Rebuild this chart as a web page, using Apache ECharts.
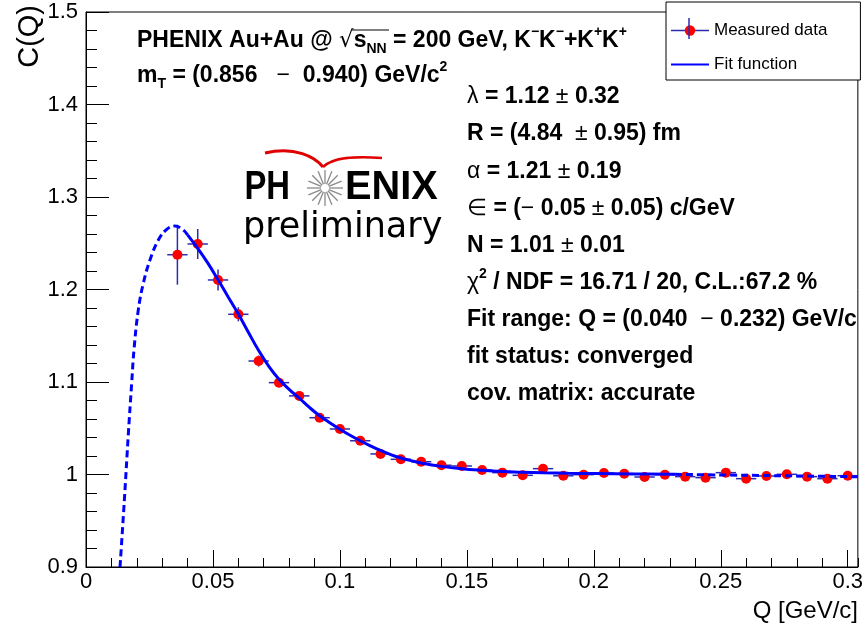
<!DOCTYPE html>
<html>
<head>
<meta charset="utf-8">
<script src="https://cdn.jsdelivr.net/npm/echarts@6/dist/echarts.min.js"></script>
<style>html,body{margin:0;padding:0;background:#fff}#chart{width:866px;height:635px}</style>
</head>
<body>
<div id="chart"></div>
<script>
// ---------- data ----------
const qValues = [0.036, 0.044, 0.052, 0.060, 0.068, 0.076, 0.084, 0.092, 0.100, 0.108,
                 0.116, 0.124, 0.132, 0.140, 0.148, 0.156, 0.164, 0.172, 0.180, 0.188,
                 0.196, 0.204, 0.212, 0.220, 0.228, 0.236, 0.244, 0.252, 0.260, 0.268,
                 0.276, 0.284, 0.292, 0.300];
const cValues = [1.2376, 1.2492, 1.2103, 1.1732, 1.1227, 1.0993, 1.0850, 1.0614, 1.0492, 1.0365,
                 1.0222, 1.0164, 1.0138, 1.0100, 1.0092, 1.0049, 1.0020, 0.9991, 1.0063, 0.9986,
                 0.9998, 1.0016, 1.0009, 0.9973, 0.9998, 0.9977, 0.9966, 1.0020, 0.9955, 0.9984,
                 1.0002, 0.9977, 0.9955, 0.9987];
const cErrors = [0.0324, 0.0162, 0.0113, 0.0076, 0.0060, 0.0050, 0.0045, 0.0040, 0.0036, 0.0033,
                 0.0030, 0.0028, 0.0026, 0.0025, 0.0024, 0.0023, 0.0022, 0.0021, 0.0021, 0.0020,
                 0.0020, 0.0019, 0.0019, 0.0019, 0.0018, 0.0018, 0.0018, 0.0018, 0.0018, 0.0017,
                 0.0017, 0.0017, 0.0017, 0.0017];
const qHalfBin = 0.004;

// fit function
const fitQ = [0.0134, 0.0151, 0.0167, 0.0180, 0.0189, 0.0206, 0.0226, 0.0252, 0.0285, 0.0318,
              0.0350, 0.0383, 0.0400, 0.0440, 0.0480, 0.0520, 0.0560, 0.0600, 0.0640, 0.0680,
              0.0720, 0.0760, 0.0800, 0.0840, 0.0880, 0.0920, 0.0960, 0.1000, 0.1040, 0.1080,
              0.1120, 0.1160, 0.1200, 0.1240, 0.1280, 0.1320, 0.1400, 0.1480, 0.1560, 0.1640,
              0.1720, 0.1800, 0.1900, 0.2000, 0.2160, 0.2320, 0.2500, 0.2700, 0.2900, 0.3040];
const fitC = [0.900, 0.972, 1.045, 1.099, 1.135, 1.178, 1.207, 1.232, 1.2535, 1.265,
              1.2686, 1.2643, 1.2590, 1.2445, 1.2285, 1.2105, 1.1920, 1.1735, 1.1535, 1.1340,
              1.1170, 1.1030, 1.0920, 1.0825, 1.0725, 1.0635, 1.0560, 1.0490, 1.0425, 1.0365,
              1.0310, 1.0260, 1.0215, 1.0178, 1.0150, 1.0125, 1.0088, 1.0062, 1.0045, 1.0032,
              1.0024, 1.0018, 1.0013, 1.0010, 1.0006, 1.0002, 0.9995, 0.9988, 0.9981, 0.9976];
const fitRange = [0.040, 0.232];

// axes
const xRange = [0, 0.304];
const xMajorStep = 0.05;
const xMinorStep = 0.01;
const yRange = [0.9, 1.5];
const yMajorStep = 0.1;

// text
const titleLine1 = 'PHENIX Au+Au @ {rad|√}{b|s}{sub|NN} = 200 GeV, K{sup|−}K{sup|−}+K{sup|+}K{sup|+}';
const titleLine2 = 'm{sub|T} = (0.856   {sym|−}  0.940) GeV/c{sup|2}';
const fitLines = [
  '{sym|λ} = 1.12 {sym|±} 0.32',
  'R = (4.84  {sym|±} 0.95) fm',
  '{sym|α} = 1.21 {sym|±} 0.19',
  '{sym|∈} = ({sym|−} 0.05 {sym|±} 0.05) c/GeV',
  'N = 1.01 {sym|±} 0.01',
  '{sym|χ}{sup|2} / NDF = 16.71 / 20, C.L.:67.2 %',
  'Fit range: Q = (0.040  {sym|−} 0.232) GeV/c',
  'fit status: converged',
  'cov. matrix: accurate'
];

// ---------- build ----------
const FF = 'Liberation Sans';
const errColor = '#2b2bb0';
const points = qValues.map((q, i) => [q, cValues[i]]);
const errData = qValues.map((q, i) => [q, cValues[i], qHalfBin, cErrors[i]]);
const fitAll = fitQ.map((q, i) => [q, fitC[i]]);
const fitMid = fitAll.filter(p => p[0] >= fitRange[0] && p[0] <= fitRange[1]);
const fitLow = fitAll.filter(p => p[0] <= fitRange[0]);
const fitHigh = fitAll.filter(p => p[0] >= fitRange[1]);

function richStyles(size) {
  const lh = Math.round(size * 1.35), ss = Math.round(size * 0.62);
  return {
    b: {fontFamily: FF, fontWeight: 'bold', fontSize: size, lineHeight: lh, fill: '#000'},
    sym: {fontFamily: FF, fontWeight: 'normal', fontSize: size, lineHeight: lh, fill: '#000'},
    rad: {fontFamily: 'DejaVu Sans', fontWeight: 'normal', fontSize: size, lineHeight: lh, fill: '#000'},
    sub: {fontFamily: FF, fontWeight: 'bold', fontSize: ss, lineHeight: ss, verticalAlign: 'bottom', fill: '#000'},
    sup: {fontFamily: FF, fontWeight: 'bold', fontSize: ss, lineHeight: ss, verticalAlign: 'top', fill: '#000'}
  };
}
function richText(text, x, y, size) {
  return {
    type: 'text', x: x, y: y, z: 50,
    style: {
      text: text, fontFamily: FF, fontWeight: 'bold', fontSize: size, fill: '#000',
      lineHeight: Math.round(size * 1.35),
      align: 'left', verticalAlign: 'middle', textAlign: 'left', textVerticalAlign: 'middle',
      rich: richStyles(size)
    }
  };
}

const graphics = [];
graphics.push(richText(titleLine1, 137, 41, 23));
graphics.push(richText(titleLine2, 137, 76, 23));
// overline of the square root
graphics.push({type: 'line', z: 50, shape: {x1: 352, y1: 30, x2: 389, y2: 30}, style: {stroke: '#000', lineWidth: 1}});
const fitY0 = 97, fitDy = 37.1;
fitLines.forEach((t, i) => graphics.push(richText(t, 467, fitY0 + i * fitDy, 23)));

// axis titles
graphics.push({type: 'text', x: 30, y: 5, rotation: Math.PI / 2, z: 50,
  style: {text: 'C(Q)', fontFamily: FF, fontSize: 29, fill: '#000', align: 'right', verticalAlign: 'middle',
          textAlign: 'right', textVerticalAlign: 'middle'}});
graphics.push({type: 'text', x: 858, y: 611, z: 50,
  style: {text: 'Q [GeV/c]', fontFamily: FF, fontSize: 24, fill: '#000', align: 'right', verticalAlign: 'middle',
          textAlign: 'right', textVerticalAlign: 'middle'}});

// PHENIX preliminary logo
graphics.push({type: 'text', x: 290, y: 188, z: 50, scaleX: 0.8,
  style: {text: 'PH', fontFamily: FF, fontWeight: 'bold', fontSize: 41, fill: '#000', align: 'right', verticalAlign: 'middle',
          textAlign: 'right', textVerticalAlign: 'middle'}});
graphics.push({type: 'text', x: 345, y: 188, z: 50, scaleX: 0.97,
  style: {text: 'ENIX', fontFamily: FF, fontWeight: 'bold', fontSize: 41, fill: '#000', align: 'left', verticalAlign: 'middle',
          textAlign: 'left', textVerticalAlign: 'middle'}});
graphics.push({type: 'text', x: 243, y: 228, z: 50,
  style: {text: 'preliminary', fontFamily: 'DejaVu Sans', fontSize: 35, fill: '#000', align: 'left', verticalAlign: 'middle',
          textAlign: 'left', textVerticalAlign: 'middle'}});
const starRays = [];
for (let k = 0; k < 16; k++) {
  const a = k * Math.PI / 8;
  starRays.push({type: 'line', shape: {x1: 325 + 4 * Math.cos(a), y1: 188 + 4 * Math.sin(a),
    x2: 325 + 18 * Math.cos(a), y2: 188 + 18 * Math.sin(a)}, style: {stroke: '#8a8a8a', lineWidth: 1.3}});
}
graphics.push({type: 'group', z: 50, children: starRays});
graphics.push({type: 'bezierCurve', z: 50, shape: {x1: 265, y1: 153, cpx1: 295, cpy1: 146, cpx2: 315, cpy2: 157, x2: 323, y2: 167},
  style: {stroke: '#e00000', lineWidth: 3, fill: null}});
graphics.push({type: 'bezierCurve', z: 50, shape: {x1: 323, y1: 167, cpx1: 333, cpy1: 157, cpx2: 355, cpy2: 156, x2: 382, y2: 158},
  style: {stroke: '#e00000', lineWidth: 2.5, fill: null}});
// vertical error bar inside the legend symbol
graphics.push({type: 'line', z: 200, shape: {x1: 689, y1: 18, x2: 689, y2: 39}, style: {stroke: errColor, lineWidth: 1.5}});

const chart = echarts.init(document.getElementById('chart'), null, {renderer: 'canvas'});
chart.setOption({
  animation: false,
  backgroundColor: '#fff',
  grid: {left: 86, right: 8, top: 12, bottom: 68, show: true, borderColor: '#000', borderWidth: 1, backgroundColor: 'transparent'},
  legend: {
    left: 666, top: 2, orient: 'vertical', selectedMode: false,
    data: [
      {name: 'Measured data', itemStyle: {color: '#ff0000'}, lineStyle: {color: errColor, width: 1.5, opacity: 1}},
      {name: 'Fit function', itemStyle: {opacity: 0}, lineStyle: {color: '#0000ff', width: 2}}
    ],
    itemWidth: 38, itemHeight: 13, itemGap: 17,
    padding: [20, 33, 7, 4],
    borderColor: '#000', borderWidth: 1, borderRadius: 0, backgroundColor: '#fff',
    textStyle: {fontFamily: FF, fontSize: 17, color: '#000'}
  },
  xAxis: [{
    type: 'value', min: xRange[0], max: xRange[1], interval: xMajorStep,
    axisLine: {show: true, onZero: false, lineStyle: {color: '#000', width: 1}},
    axisTick: {show: true, inside: true, length: 17, lineStyle: {color: '#000', width: 1}},
    splitLine: {show: false},
    axisLabel: {color: '#000', fontFamily: FF, fontSize: 22, margin: 4, showMaxLabel: false,
      formatter: v => (Math.abs(v / xMajorStep - Math.round(v / xMajorStep)) < 1e-6 ? String(+v.toFixed(3)) : '')}
  }, {
    type: 'value', min: xRange[0], max: xRange[1], interval: xMinorStep, position: 'bottom',
    axisLine: {show: false}, axisLabel: {show: false}, splitLine: {show: false},
    axisTick: {show: true, inside: true, length: 9, lineStyle: {color: '#000', width: 1}}
  }],
  yAxis: {
    type: 'value', min: yRange[0], max: yRange[1], interval: yMajorStep,
    axisLine: {show: true, onZero: false, lineStyle: {color: '#000', width: 1}},
    axisTick: {show: true, inside: true, length: 23, lineStyle: {color: '#000', width: 1}},
    minorTick: {show: true, splitNumber: 5, length: 11, lineStyle: {color: '#000', width: 1}},
    splitLine: {show: false}, minorSplitLine: {show: false},
    axisLabel: {color: '#000', fontFamily: FF, fontSize: 22, margin: 8,
      formatter: v => String(+v.toFixed(2))}
  },
  series: [
    {
      name: 'Measured data', type: 'line', data: points, z: 3,
      symbol: 'circle', symbolSize: 10, showSymbol: true,
      itemStyle: {color: '#ff0000'}, lineStyle: {opacity: 0, width: 0},
      emphasis: {disabled: true}
    },
    {
      name: 'Fit function', type: 'line', data: fitMid, z: 4, smooth: 0.4,
      symbol: 'none', lineStyle: {color: '#0000ff', width: 3}, itemStyle: {color: '#0000ff'}
    },
    {
      name: 'fit low', type: 'line', data: fitLow, z: 4, smooth: 0.4,
      symbol: 'none', lineStyle: {color: '#0000ff', width: 3, type: [7, 4]}
    },
    {
      name: 'fit high', type: 'line', data: fitHigh, z: 4, smooth: 0.4,
      symbol: 'none', lineStyle: {color: '#0000ff', width: 3, type: [7, 4]}
    },
    {
      name: 'errors', type: 'custom', data: errData, z: 2, clip: true,
      encode: {x: 0, y: 1},
      renderItem: function (params, api) {
        const q = api.value(0), c = api.value(1), ex = api.value(2), ey = api.value(3);
        const l = api.coord([q - ex, c]), r = api.coord([q + ex, c]);
        const t = api.coord([q, c + ey]), b = api.coord([q, c - ey]);
        return {type: 'group', children: [
          {type: 'line', shape: {x1: l[0], y1: l[1], x2: r[0], y2: r[1]}, style: {stroke: errColor, lineWidth: 1.5}},
          {type: 'line', shape: {x1: t[0], y1: t[1], x2: b[0], y2: b[1]}, style: {stroke: errColor, lineWidth: 1.5}}
        ]};
      }
    }
  ],
  graphic: graphics
});
</script>
</body>
</html>
